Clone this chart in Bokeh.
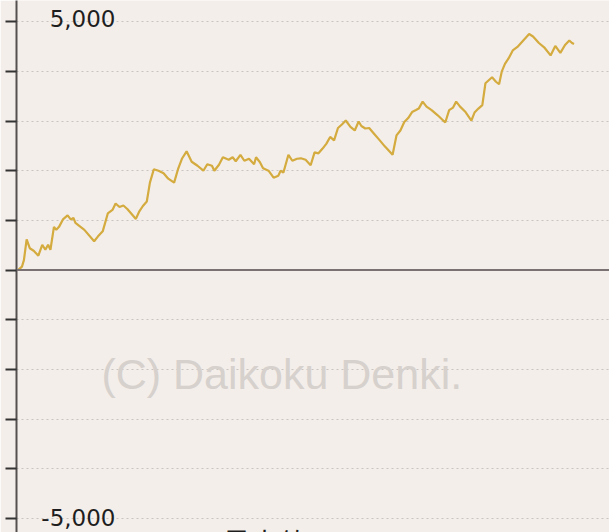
from bokeh.plotting import figure
from bokeh.models import Range1d, Span, Label, FixedTicker, LinearAxis, CustomJSTickFormatter
from bokeh.embed import file_html
from bokeh.resources import INLINE

# ---- data ----
games = [0, 50, 75, 110, 150, 200, 260, 310, 350, 385, 415, 460, 490, 525, 575, 635, 675, 710, 735,
         850, 975, 1025, 1085, 1150, 1210, 1250, 1300, 1350, 1400, 1450, 1510, 1550, 1600, 1650,
         1690, 1740, 1800, 1865, 1925, 2000, 2050, 2100, 2160, 2225, 2300, 2375, 2425, 2485, 2515,
         2575, 2625, 2700, 2750, 2790, 2850, 2900, 2960, 3025, 3050, 3100, 3140, 3210, 3275, 3335,
         3365, 3400, 3465, 3515, 3575, 3625, 3685, 3750, 3800, 3850, 3900, 3950, 4000, 4050, 4100,
         4150, 4200, 4260, 4315, 4365, 4400, 4450, 4500, 4565, 4625, 4700, 4800, 4850, 4900, 4950,
         5000, 5050, 5100, 5135, 5185, 5235, 5300, 5375, 5475, 5525, 5575, 5615, 5665, 5735, 5810,
         5850, 5900, 5950, 5990, 6025, 6075, 6125, 6165, 6200, 6240, 6290, 6340, 6400, 6475, 6550,
         6600, 6675, 6750, 6825, 6885, 6950, 7010, 7065, 7100, 7125]
balance = [0, 70, 200, 620, 440, 390, 290, 510, 410, 510, 410, 870, 810, 870, 1020, 1100, 1020, 1050, 950,
           810, 580, 680, 780, 1140, 1210, 1340, 1270, 1300, 1230, 1140, 1030, 1170, 1290, 1380,
           1760, 2030, 2000, 1950, 1840, 1760, 2030, 2240, 2390, 2180, 2100, 2000, 2130, 2100, 2000,
           2120, 2270, 2220, 2270, 2190, 2320, 2200, 2240, 2130, 2270, 2170, 2050, 2000, 1860, 1900,
           2000, 1960, 2320, 2200, 2240, 2250, 2220, 2110, 2370, 2350, 2440, 2540, 2680, 2610, 2860,
           2930, 3010, 2880, 2810, 2990, 2900, 2850, 2860, 2740, 2630, 2490, 2320, 2710, 2810, 2980,
           3060, 3180, 3220, 3250, 3390, 3290, 3220, 3120, 2970, 3220, 3270, 3390, 3290, 3180, 3010,
           3170, 3250, 3320, 3760, 3810, 3880, 3790, 3740, 4000, 4150, 4270, 4420, 4490, 4620, 4750,
           4700, 4570, 4470, 4320, 4510, 4370, 4530, 4620, 4570, 4550]
y_ticks = [-5000, -4000, -3000, -2000, -1000, 0, 1000, 2000, 3000, 4000, 5000]
tick_labels = ["5,000", "-5,000"]
tick_label_values = [5000, -5000]
watermark = "(C) Daikoku Denki."
max_text = "最大値：4750"

BG = "#f4eeea"

p = figure(width=609, height=532, output_backend="svg", toolbar_location=None,
           x_range=Range1d(-20, 7580), y_range=Range1d(-5280, 5425),
           background_fill_color=BG, border_fill_color=BG,
           min_border_left=16, min_border_right=0, min_border_top=0, min_border_bottom=0,
           x_axis_location=None, y_axis_location=None)
p.outline_line_color = None
p.xgrid.visible = False

yaxis = LinearAxis(ticker=FixedTicker(ticks=y_ticks),
                   formatter=CustomJSTickFormatter(code="return ''"),
                   major_label_text_font_size="1px", major_label_standoff=0,
                   major_tick_out=11, major_tick_in=0, minor_tick_line_color=None,
                   axis_line_color="#555050", axis_line_width=2,
                   major_tick_line_color="#333333", major_tick_line_width=2)
p.add_layout(yaxis, "left")
p.ygrid.ticker = FixedTicker(ticks=[t for t in y_ticks if t != 0])
p.ygrid.grid_line_color = "#c9c4c0"
p.ygrid.grid_line_dash = "2 3"
p.ygrid.grid_line_width = 1

p.add_layout(Span(location=0, dimension="width", line_color="#7a7272", line_width=2))

p.add_layout(Label(x=3380, y=-2100, text=watermark, text_align="center", text_baseline="middle",
                   text_font="Liberation Sans", text_font_size="43px", text_color="#d6d1cd"))

p.line(games, balance, line_color="#d4ab3e", line_width=2.2)

for txt, val, off in zip(tick_labels, tick_label_values, [3, 1]):
    p.add_layout(Label(x=-20, y=val, x_offset=99, y_offset=off, text=txt, text_align="right",
                       text_baseline="middle", text_font="DejaVu Sans", text_font_size="23px",
                       text_color="#1e1e1e"))

p.add_layout(Label(x=2620, y=-5280, y_offset=11, text=max_text, text_align="left",
                   text_baseline="top", text_font="Noto Sans CJK JP", text_font_size="28px",
                   text_color="#1e1e1e"))

open("out.html", "w").write(file_html(p, INLINE))
